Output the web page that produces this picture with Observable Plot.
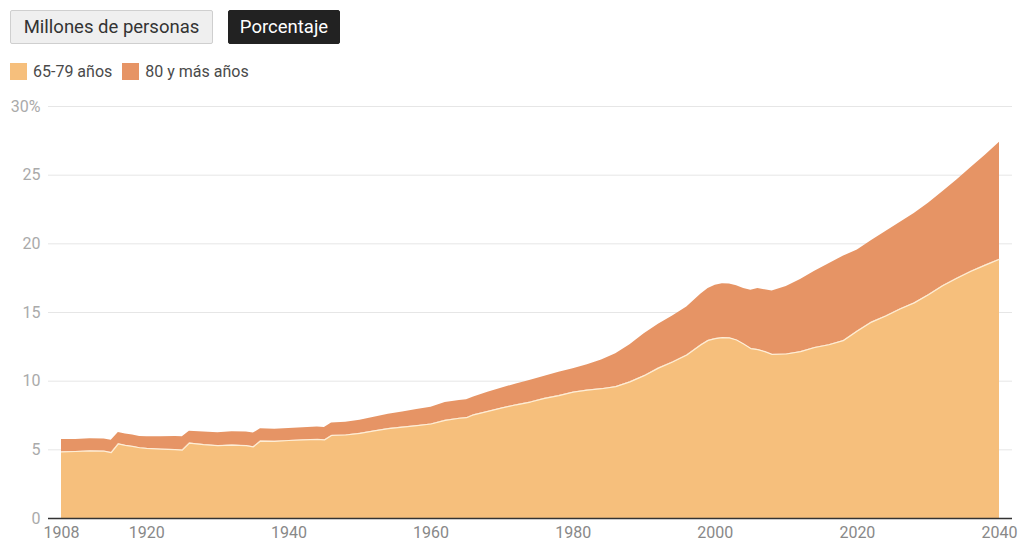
<!DOCTYPE html>
<html>
<head>
<meta charset="utf-8">
<script src="https://cdn.jsdelivr.net/npm/d3@7"></script>
<script src="https://cdn.jsdelivr.net/npm/@observablehq/plot@0.6"></script>
<style>
  html, body { margin: 0; padding: 0; background: #fff; }
  body { width: 1018px; height: 542px; overflow: hidden; font-family: Roboto, "Noto Sans", sans-serif; }
  #header { position: relative; height: 92px; }
  .btn { position: absolute; top: 10px; height: 34px; box-sizing: border-box; font-size: 18.5px; line-height: 32px; border-radius: 2px; text-align: center; }
  .btn.off { left: 10px; width: 203px; background: #efefef; border: 1px solid #cfcfcf; color: #333; }
  .btn.on { left: 228px; width: 112px; background: #222; border: 1px solid #222; color: #fff; }
  #legend { position: absolute; top: 62px; left: 10px; display: flex; align-items: center; font-size: 16px; color: #4a4a4a; }
  #legend .item { display: flex; align-items: center; margin-right: 10px; }
  #legend .sw { width: 17px; height: 17px; margin-right: 6px; }
  #chart { position: absolute; top: 92px; left: 0; }
</style>
</head>
<body>
<div id="header">
  <div class="btn off">Millones de personas</div>
  <div class="btn on">Porcentaje</div>
  <div id="legend"></div>
</div>
<div id="chart"></div>
<script>
// Share of the population by age group, % of total
const years = [
  1908, 1910, 1912, 1914, 1915, 1916, 1917, 1918, 1919, 1920, 1922, 1924, 1925,
  1926, 1928, 1930, 1932, 1934, 1935, 1936, 1938, 1940, 1942, 1944, 1945,
  1946, 1948, 1950, 1952, 1954, 1956, 1958, 1960, 1962, 1964, 1965, 1966,
  1968, 1970, 1972, 1974, 1976, 1978, 1980, 1982, 1984, 1986, 1988, 1990,
  1992, 1994, 1996, 1998, 1999, 2000, 2001, 2002, 2003, 2004, 2005, 2006,
  2007, 2008, 2010, 2012, 2014, 2016, 2018, 2020, 2022, 2024, 2026, 2028,
  2030, 2032, 2034, 2036, 2038, 2040
];
const age65to79 = [
  4.85, 4.88, 4.92, 4.90, 4.80, 5.44, 5.32, 5.25, 5.15, 5.10, 5.05, 5.02, 4.98,
  5.49, 5.38, 5.30, 5.35, 5.30, 5.22, 5.64, 5.62, 5.68, 5.72, 5.76, 5.72,
  6.05, 6.08, 6.20, 6.38, 6.55, 6.66, 6.76, 6.88, 7.15, 7.30, 7.34, 7.55,
  7.80, 8.05, 8.28, 8.48, 8.75, 8.95, 9.20, 9.35, 9.45, 9.60, 9.95, 10.40,
  10.95, 11.40, 11.90, 12.65, 12.97, 13.10, 13.17, 13.15, 13.00, 12.70, 12.37, 12.30,
  12.15, 11.95, 11.98, 12.15, 12.45, 12.65, 12.95, 13.65, 14.30, 14.75, 15.25, 15.70,
  16.30, 16.95, 17.50, 18.00, 18.45, 18.88
];
const age80plus = [
  0.90, 0.88, 0.88, 0.88, 0.90, 0.83, 0.83, 0.83, 0.83, 0.85, 0.90, 0.95, 0.97,
  0.87, 0.92, 0.95, 0.97, 1.00, 1.00, 0.90, 0.88, 0.87, 0.88, 0.90, 0.90,
  0.90, 0.92, 0.95, 1.00, 1.05, 1.10, 1.17, 1.22, 1.30, 1.30, 1.31, 1.30,
  1.40, 1.45, 1.52, 1.58, 1.60, 1.70, 1.70, 1.85, 2.10, 2.40, 2.70, 3.05,
  3.20, 3.35, 3.50, 3.70, 3.77, 3.88, 3.93, 3.93, 3.95, 4.05, 4.25, 4.44,
  4.50, 4.62, 4.92, 5.25, 5.55, 5.90, 6.15, 5.90, 5.95, 6.15, 6.30, 6.50,
  6.65, 6.85, 7.15, 7.55, 8.00, 8.52
];
const seriesNames = ["65-79 años", "80 y más años"];
const seriesColors = ["#f6bf7c", "#e69465"];
const xTicks = [1908, 1920, 1940, 1960, 1980, 2000, 2020, 2040];
const yTicks = [0, 5, 10, 15, 20, 25, 30];

// Long-format table for the stacked areas
const rows = [];
years.forEach((year, i) => {
  rows.push({year, group: seriesNames[0], value: age65to79[i]});
  rows.push({year, group: seriesNames[1], value: age80plus[i]});
});
const boundary = years.map((year, i) => ({year, value: age65to79[i]}));

// Legend
const legend = document.getElementById("legend");
seriesNames.forEach((name, i) => {
  const item = document.createElement("div");
  item.className = "item";
  const sw = document.createElement("div");
  sw.className = "sw";
  sw.style.background = seriesColors[i];
  item.appendChild(sw);
  item.appendChild(document.createTextNode(name));
  legend.appendChild(item);
});

const chart = Plot.plot({
  width: 1018,
  height: 450,
  marginTop: 14,
  marginLeft: 48,
  marginRight: 6,
  marginBottom: 24,
  style: {fontFamily: "Roboto, sans-serif", fontSize: "16px", background: "#fff"},
  x: {domain: [1908, 2040], insetLeft: 13, insetRight: 13, label: null, ticks: xTicks, tickFormat: d => String(d)},
  y: {domain: [0, 30], label: null, ticks: yTicks},
  color: {domain: seriesNames, range: seriesColors},
  marks: [
    Plot.ruleY(yTicks.filter(d => d > 0), {stroke: "#e6e6e6", strokeWidth: 1}),
    Plot.areaY(rows, {x: "year", y: "value", fill: "group", order: seriesNames, curve: "linear"}),
    Plot.lineY(boundary, {x: "year", y: "value", stroke: "#fff3e0", strokeWidth: 1.2, strokeOpacity: 0.9}),
    Plot.ruleY([0], {stroke: "#333", strokeWidth: 1.5}),
    Plot.axisY({ticks: yTicks, tickSize: 0, tickPadding: 8, fill: "#aaa", tickFormat: d => d === 30 ? "30%" : String(d), label: null}),
    Plot.axisX({ticks: xTicks, tickSize: 0, tickPadding: 8, fill: "#888", tickFormat: d => String(d), label: null})
  ]
});
document.getElementById("chart").appendChild(chart);
</script>
</body>
</html>
